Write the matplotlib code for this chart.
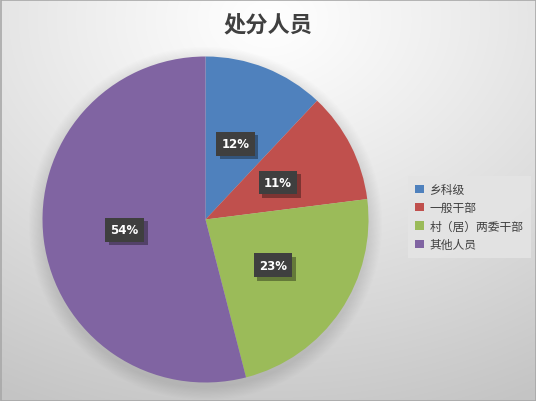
import numpy as np
import matplotlib
matplotlib.use("Agg")
import matplotlib.pyplot as plt
import matplotlib.patheffects as pe
from matplotlib.patches import Circle, Rectangle

plt.rcParams['font.family'] = ['Noto Sans CJK SC', 'DejaVu Sans']

title = "处分人员"
categories = ["乡科级", "一般干部", "村（居）两委干部", "其他人员"]
values = [12, 11, 23, 54]
colors = ["#4F81BD", "#C0504D", "#9BBB59", "#8064A2"]

W, H = 536, 402
fig = plt.figure(figsize=(W / 100, H / 100), dpi=100)

# radial gradient background
bg = fig.add_axes([0, 0, 1, 1])
yy, xx = np.mgrid[0:H, 0:W]
d = np.sqrt(((xx - W * 0.5) / W) ** 2 + ((yy - H * 0.05) / H) ** 2)
d = np.clip(d / 1.05, 0, 1)
shade = 1.0 - 0.23 * d ** 1.1
img = np.dstack([shade, shade, shade])
bg.imshow(img, extent=[0, W, H, 0], aspect='auto', interpolation='bilinear')
bg.add_patch(Rectangle((0.5, 0.5), W - 1, H - 1, fill=False, ec="#a8a8a8", lw=1.2))
bg.set_xlim(0, W)
bg.set_ylim(H, 0)
bg.axis('off')

fig.text(268 / W, 1 - 25 / H, title, ha='center', va='center',
         fontsize=16, fontweight='bold', color='#404040')

cx, cy, r = 205.5, 220.5, 163
ax = fig.add_axes([(cx - r) / W, (H - cy - r) / H, 2 * r / W, 2 * r / H])

wedges, _ = ax.pie(values, colors=colors, startangle=90, counterclock=False,
                   radius=1.0, wedgeprops=dict(lw=0))
for w in wedges:
    w.set_zorder(1)

# soft shadow under the pie
for i in range(12):
    ax.add_patch(Circle((0.0, -0.025), 1.0 + 0.007 * (12 - i), color='black',
                        alpha=0.009, lw=0, zorder=0, clip_on=False))

ax.set_xlim(-1, 1)
ax.set_ylim(-1, 1)
ax.set_aspect('auto')
ax.axis('off')

total = sum(values)
start = 90.0
for v in values:
    mid = np.deg2rad(start - v / total * 360 / 2)
    start -= v / total * 360
    x, y = 0.5 * np.cos(mid), 0.5 * np.sin(mid)
    t = ax.text(x, y, f"{v}%", ha='center', va='center', fontsize=8.5,
                fontweight='bold', color='white', family='DejaVu Sans',
                bbox=dict(boxstyle='square,pad=0.45', fc='#3f3f3f', ec='none'),
                zorder=4)
    t.get_bbox_patch().set_path_effects([
        pe.SimplePatchShadow(offset=(2.5, -2.5), shadow_rgbFace='black', alpha=0.35),
        pe.Normal()])

leg = fig.legend(wedges, categories, loc='center left',
                 bbox_to_anchor=(406 / W, 1 - 218 / H), frameon=True,
                 fontsize=8.5, handlelength=0.7, handleheight=0.7,
                 handletextpad=0.5, labelspacing=0.45, borderpad=0.3,
                 labelcolor='#404040')
frame = leg.get_frame()
frame.set_facecolor('#e4e4e4')
frame.set_edgecolor('none')
frame.set_alpha(0.9)
frame.set_boxstyle('square')

fig.savefig("out.png", dpi=100)
